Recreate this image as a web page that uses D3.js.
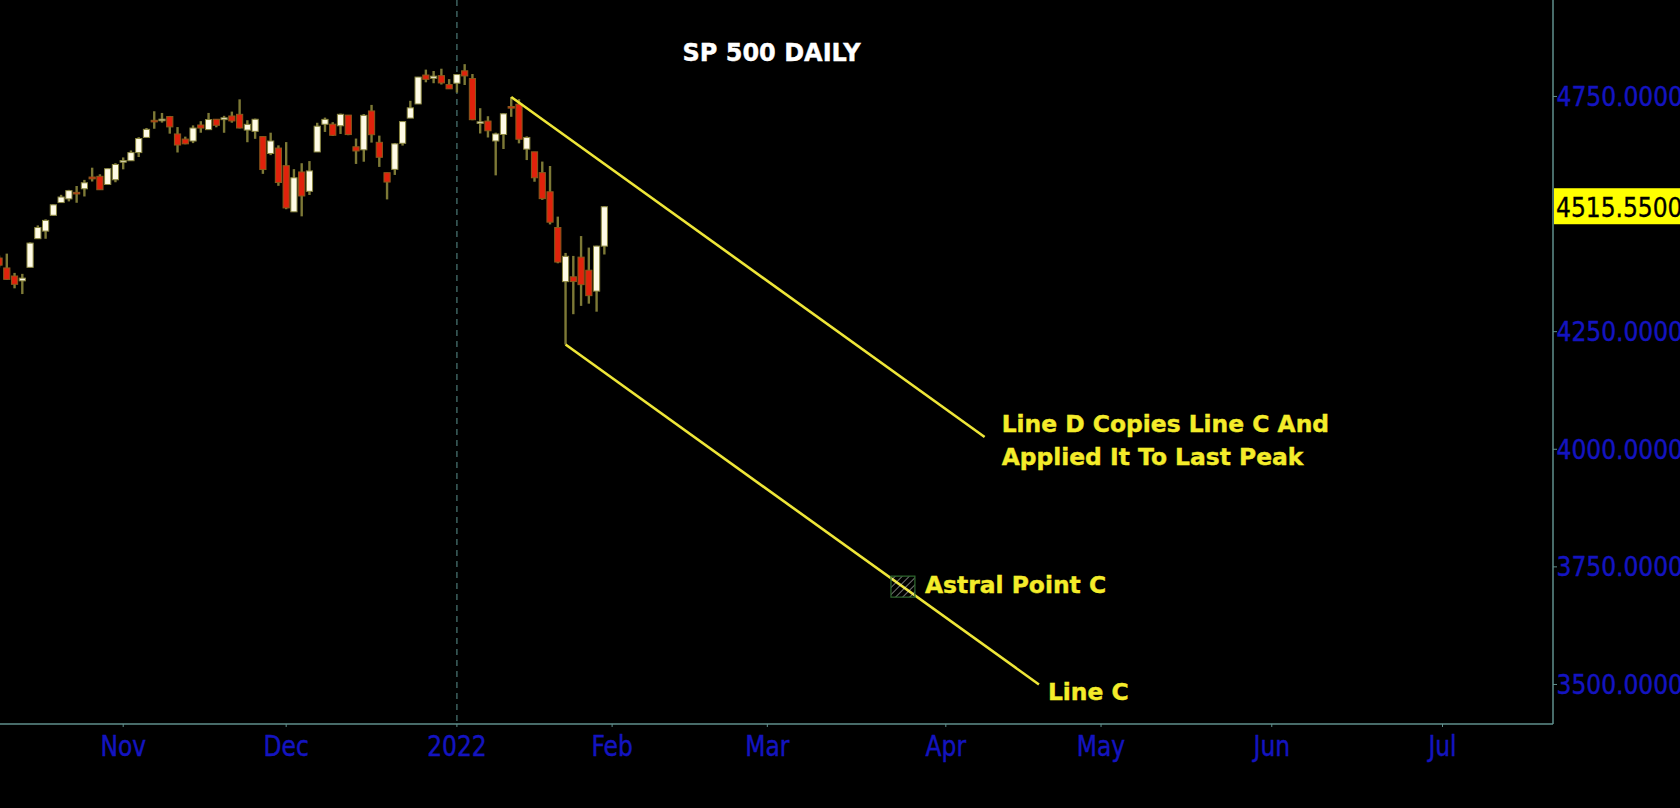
<!DOCTYPE html>
<meta charset="utf-8">
<script src="https://cdn.jsdelivr.net/npm/d3@7"></script>
<style>
  body { margin: 0; background: #000; overflow: hidden; }
</style>
<body>
<script>
// daily bars, S&P 500
var dates = ["2021-10-08","2021-10-11","2021-10-12","2021-10-13","2021-10-14","2021-10-15","2021-10-18","2021-10-19","2021-10-20","2021-10-21","2021-10-22","2021-10-25","2021-10-26","2021-10-27","2021-10-28","2021-10-29",
  "2021-11-01","2021-11-02","2021-11-03","2021-11-04","2021-11-05","2021-11-08","2021-11-09","2021-11-10","2021-11-11","2021-11-12","2021-11-15","2021-11-16","2021-11-17","2021-11-18","2021-11-19","2021-11-22","2021-11-23","2021-11-24","2021-11-26","2021-11-29","2021-11-30",
  "2021-12-01","2021-12-02","2021-12-03","2021-12-06","2021-12-07","2021-12-08","2021-12-09","2021-12-10","2021-12-13","2021-12-14","2021-12-15","2021-12-16","2021-12-17","2021-12-20","2021-12-21","2021-12-22","2021-12-23","2021-12-27","2021-12-28","2021-12-29","2021-12-30","2021-12-31",
  "2022-01-03","2022-01-04","2022-01-05","2022-01-06","2022-01-07","2022-01-10","2022-01-11","2022-01-12","2022-01-13","2022-01-14","2022-01-18","2022-01-19","2022-01-20","2022-01-21","2022-01-24","2022-01-25","2022-01-26","2022-01-27","2022-01-28","2022-01-31"];
var opens = [4406.51,4385.44,4368.31,4358.01,4386.75,4447.69,4463.72,4497.34,4524.42,4532.24,4546.12,4553.69,4578.69,4580.22,4562.84,4572.87,
  4610.62,4613.34,4630.65,4662.93,4699.26,4701.48,4707.25,4670.26,4659.39,4655.24,4689.30,4679.42,4701.50,4700.72,4708.44,4712.00,4678.48,4675.78,4664.63,4628.75,4640.25,
  4602.82,4504.73,4589.49,4548.37,4631.97,4690.86,4691.00,4687.64,4710.30,4642.99,4636.46,4719.13,4652.50,4587.90,4594.96,4650.36,4703.96,4733.99,4795.49,4788.64,4794.23,4775.21,
  4778.14,4804.51,4787.99,4693.39,4697.66,4655.34,4669.14,4728.59,4733.56,4637.99,4632.24,4588.03,4547.35,4471.38,4356.32,4366.64,4408.43,4380.58,4336.19,4431.79];
var highs = [4412.02,4415.88,4374.89,4372.87,4439.73,4475.82,4488.75,4520.40,4540.87,4551.44,4559.67,4572.62,4598.53,4584.57,4597.55,4608.08,
  4620.34,4635.15,4663.46,4683.00,4718.50,4714.92,4708.53,4684.85,4664.55,4688.47,4697.42,4714.95,4701.50,4708.80,4717.75,4743.83,4699.39,4702.87,4664.63,4672.95,4646.02,
  4652.94,4595.46,4608.03,4612.60,4694.04,4705.06,4695.26,4713.57,4710.30,4660.47,4712.60,4731.99,4666.70,4587.90,4651.14,4697.67,4740.74,4791.49,4807.02,4804.06,4808.93,4786.83,
  4796.64,4818.62,4797.70,4725.01,4707.95,4673.02,4714.13,4748.83,4744.13,4665.13,4632.24,4611.55,4602.11,4494.52,4417.35,4411.01,4453.23,4428.74,4432.72,4516.89];
var lows = [4386.22,4360.59,4342.09,4329.92,4386.75,4447.69,4447.47,4496.41,4524.40,4526.89,4524.00,4537.36,4569.17,4551.66,4562.84,4567.59,
  4595.06,4613.34,4621.19,4662.59,4681.32,4694.39,4670.87,4630.86,4648.31,4650.77,4672.86,4679.42,4684.41,4672.78,4694.22,4682.17,4652.66,4659.89,4585.43,4625.26,4560.00,
  4510.27,4504.73,4495.12,4540.51,4631.97,4674.52,4665.98,4670.24,4667.60,4606.52,4611.22,4651.89,4600.22,4531.10,4583.16,4645.53,4703.96,4733.99,4780.04,4778.08,4775.33,4765.75,
  4758.17,4774.27,4699.44,4671.26,4662.74,4582.24,4638.27,4706.71,4650.29,4614.75,4568.70,4530.20,4477.95,4395.34,4222.62,4287.11,4304.80,4309.50,4292.46,4414.02];
var closes = [4391.34,4361.19,4350.65,4363.80,4438.26,4471.37,4486.46,4519.63,4536.19,4549.78,4544.90,4566.48,4574.79,4551.68,4596.42,4605.38,
  4613.67,4630.65,4660.57,4680.06,4697.53,4701.70,4685.25,4646.71,4649.27,4682.85,4682.80,4700.90,4688.67,4704.54,4697.96,4682.94,4690.70,4701.46,4594.62,4655.27,4567.00,
  4513.04,4577.10,4538.43,4591.67,4686.75,4701.21,4667.45,4712.02,4668.97,4634.09,4709.85,4668.67,4620.64,4568.02,4649.23,4696.56,4725.79,4791.19,4786.35,4793.06,4778.73,4766.18,
  4796.56,4793.54,4700.58,4696.05,4677.03,4670.29,4713.07,4726.35,4659.03,4662.85,4577.11,4532.76,4482.73,4397.94,4410.13,4356.45,4349.93,4326.51,4431.85,4515.55];

var priceTicks = [3500, 3750, 4000, 4250, 4500, 4750];
var holidays = ["2021-11-25", "2021-12-24", "2022-01-17", "2022-04-15"];

// drawn lines and marker
var lineCDates = ["2022-01-24", "2022-04-20"], lineCPrices = [4222.62, 3500];
var lineDDates = ["2022-01-12", "2022-04-08"], lineDPrices = [4748.83, 4026];
var astralDate = "2022-03-24", astralPrice = 3708;

var W = 1680, H = 808,
    plotRight = 1553, plotBottom = 724;

var parse = d3.timeParse("%Y-%m-%d"), fmt = d3.timeFormat("%Y-%m-%d");
var days = d3.timeDay.range(parse("2021-10-08"), parse("2022-07-31"))
  .filter(function(d) { return d.getDay() % 6 !== 0 && holidays.indexOf(fmt(d)) < 0; });
var dayIndex = {};
days.forEach(function(d, i) { dayIndex[fmt(d)] = i; });

var x = d3.scaleLinear()
  .domain([dayIndex["2021-11-01"], dayIndex["2022-07-01"]])
  .range([123.2, 1442.5]);
var y = d3.scaleLinear().domain([3416, 4955]).range([plotBottom, 0]);

var bars = dates.map(function(d, i) {
  return { i: dayIndex[d], o: opens[i], h: highs[i], l: lows[i], c: closes[i] };
});

var svg = d3.select("body").append("svg")
  .attr("width", W).attr("height", H)
  .style("background", "#000");

var defs = svg.append("defs");
defs.append("clipPath").attr("id", "plot")
  .append("rect").attr("x", 0).attr("y", 0).attr("width", plotRight).attr("height", plotBottom);
var hatch = defs.append("pattern").attr("id", "hatch")
  .attr("patternUnits", "userSpaceOnUse").attr("width", 5).attr("height", 5)
  .attr("patternTransform", "rotate(45)");
hatch.append("line").attr("x1", 0).attr("y1", 0).attr("x2", 0).attr("y2", 5)
  .attr("stroke", "#e8e8e8").attr("stroke-width", 1);

// month ticks: first trading day of each month
var monthTicks = days.filter(function(d, i) {
  return i > 0 && d.getMonth() !== days[i - 1].getMonth() && x(i) < plotRight;
});

// year separator
svg.append("line")
  .attr("x1", x(dayIndex["2022-01-03"])).attr("x2", x(dayIndex["2022-01-03"]))
  .attr("y1", 0).attr("y2", plotBottom)
  .attr("stroke", "#46706e").attr("stroke-width", 1.3)
  .attr("stroke-dasharray", "6,5");

// frame
svg.append("line").attr("x1", 0).attr("x2", plotRight).attr("y1", plotBottom).attr("y2", plotBottom)
  .attr("stroke", "#5f8f8c").attr("stroke-width", 1.5);
svg.append("line").attr("x1", plotRight).attr("x2", plotRight).attr("y1", 0).attr("y2", plotBottom)
  .attr("stroke", "#5f8f8c").attr("stroke-width", 1.5);

svg.selectAll(".mtick").data(monthTicks).enter().append("line")
  .attr("x1", function(d) { return x(dayIndex[fmt(d)]); })
  .attr("x2", function(d) { return x(dayIndex[fmt(d)]); })
  .attr("y1", plotBottom).attr("y2", plotBottom + 3)
  .attr("stroke", "#5f8f8c").attr("stroke-width", 1);

var axisFont = "'DejaVu Sans Condensed', 'DejaVu Sans'";
svg.selectAll(".mlabel").data(monthTicks).enter().append("text")
  .attr("transform", function(d) { return "translate(" + x(dayIndex[fmt(d)]) + ",756) scale(1,1.08)"; })
  .attr("text-anchor", "middle")
  .style("font-family", axisFont)
  .style("font-size", "26px")
  .style("fill", "#1414c0").style("stroke", "#1414c0").style("stroke-width", 0.4)
  .text(function(d) { return d.getMonth() === 0 ? d3.timeFormat("%Y")(d) : d3.timeFormat("%b")(d); });

// price axis
var last = closes[closes.length - 1];
var shownTicks = priceTicks.filter(function(p) { return Math.abs(y(p) - y(last)) > 30; });

svg.selectAll(".ptick").data(shownTicks).enter().append("line")
  .attr("x1", plotRight).attr("x2", plotRight + 4)
  .attr("y1", function(d) { return y(d); }).attr("y2", function(d) { return y(d); })
  .attr("stroke", "#5f8f8c").attr("stroke-width", 1);

svg.selectAll(".plabel").data(shownTicks).enter().append("text")
  .attr("x", 1556.5)
  .attr("y", function(d) { return y(d) + 9.6; })
  .style("font-family", axisFont)
  .style("font-size", "26px")
  .style("fill", "#1414c0").style("stroke", "#1414c0").style("stroke-width", 0.4)
  .text(function(d) { return d3.format(".4f")(d); });

svg.append("rect")
  .attr("x", plotRight + 1).attr("y", y(last) - 18.5)
  .attr("width", W - plotRight).attr("height", 36)
  .attr("fill", "#ffff00");
svg.append("text")
  .attr("x", 1556)
  .attr("y", y(last) + 9.8)
  .style("font-family", axisFont)
  .style("font-size", "26px")
  .style("fill", "#000").style("stroke", "#000").style("stroke-width", 0.3)
  .text(d3.format(".4f")(last));

// candles
var plot = svg.append("g").attr("clip-path", "url(#plot)");
var bodyW = 6.2;

plot.selectAll(".wick").data(bars).enter().append("line")
  .attr("x1", function(d) { return x(d.i); }).attr("x2", function(d) { return x(d.i); })
  .attr("y1", function(d) { return y(d.h); }).attr("y2", function(d) { return y(d.l); })
  .attr("stroke", "#7d7936").attr("stroke-width", 2.4);

plot.selectAll(".body").data(bars).enter().append("rect")
  .attr("x", function(d) { return x(d.i) - bodyW / 2; })
  .attr("y", function(d) { return y(Math.max(d.o, d.c)); })
  .attr("width", bodyW)
  .attr("height", function(d) { return Math.max(1.6, Math.abs(y(d.o) - y(d.c))); })
  .attr("fill", function(d) { return d.c >= d.o ? "#fffbe6" : "#e0220c"; })
  .attr("stroke", function(d) { return d.c >= d.o ? "#8a8640" : "#8c5a1c"; })
  .attr("stroke-width", 1);

// drawn trend lines
function drawLine(ds, ps) {
  svg.append("line")
    .attr("x1", x(dayIndex[ds[0]])).attr("y1", y(ps[0]))
    .attr("x2", x(dayIndex[ds[1]])).attr("y2", y(ps[1]))
    .attr("stroke", "#eee638").attr("stroke-width", 2.6);
}
drawLine(lineCDates, lineCPrices);
drawLine(lineDDates, lineDPrices);

// astral point marker
var ai = dayIndex[astralDate];
svg.append("rect")
  .attr("x", x(ai) - 8.3).attr("y", y(astralPrice) - 10.5)
  .attr("width", x(ai + 1) + 7.9 - (x(ai) - 8.3)).attr("height", 21)
  .attr("fill", "url(#hatch)")
  .attr("stroke", "#2f6a2f").attr("stroke-width", 1.2);

// texts
var anno = { "font-family": "'DejaVu Sans', Verdana, sans-serif", "font-weight": "bold", "font-size": "23.4px" };
function label(tx, ty, str, color) {
  var t = svg.append("text").attr("x", tx).attr("y", ty).style("fill", color).text(str);
  Object.keys(anno).forEach(function(k) { t.style(k, anno[k]); });
  t.style("stroke", color).style("stroke-width", 0.4);
  return t;
}

label(771.5, 60.7, "SP 500 DAILY", "#ffffff").attr("text-anchor", "middle").style("font-size", "24px");

var dEnd = [x(dayIndex[lineDDates[1]]), y(lineDPrices[1])];
label(dEnd[0] + 17, dEnd[1] - 4.7, "Line D Copies Line C And", "#f4ec2a");
label(dEnd[0] + 17, dEnd[1] + 28, "Applied It To Last Peak", "#f4ec2a");

label(x(ai + 1) + 18, y(astralPrice) + 6.2, "Astral Point C", "#f4ec2a");

var cEnd = [x(dayIndex[lineCDates[1]]), y(lineCPrices[1])];
label(cEnd[0] + 9, cEnd[1] + 15.5, "Line C", "#f4ec2a");
</script>
</body>
